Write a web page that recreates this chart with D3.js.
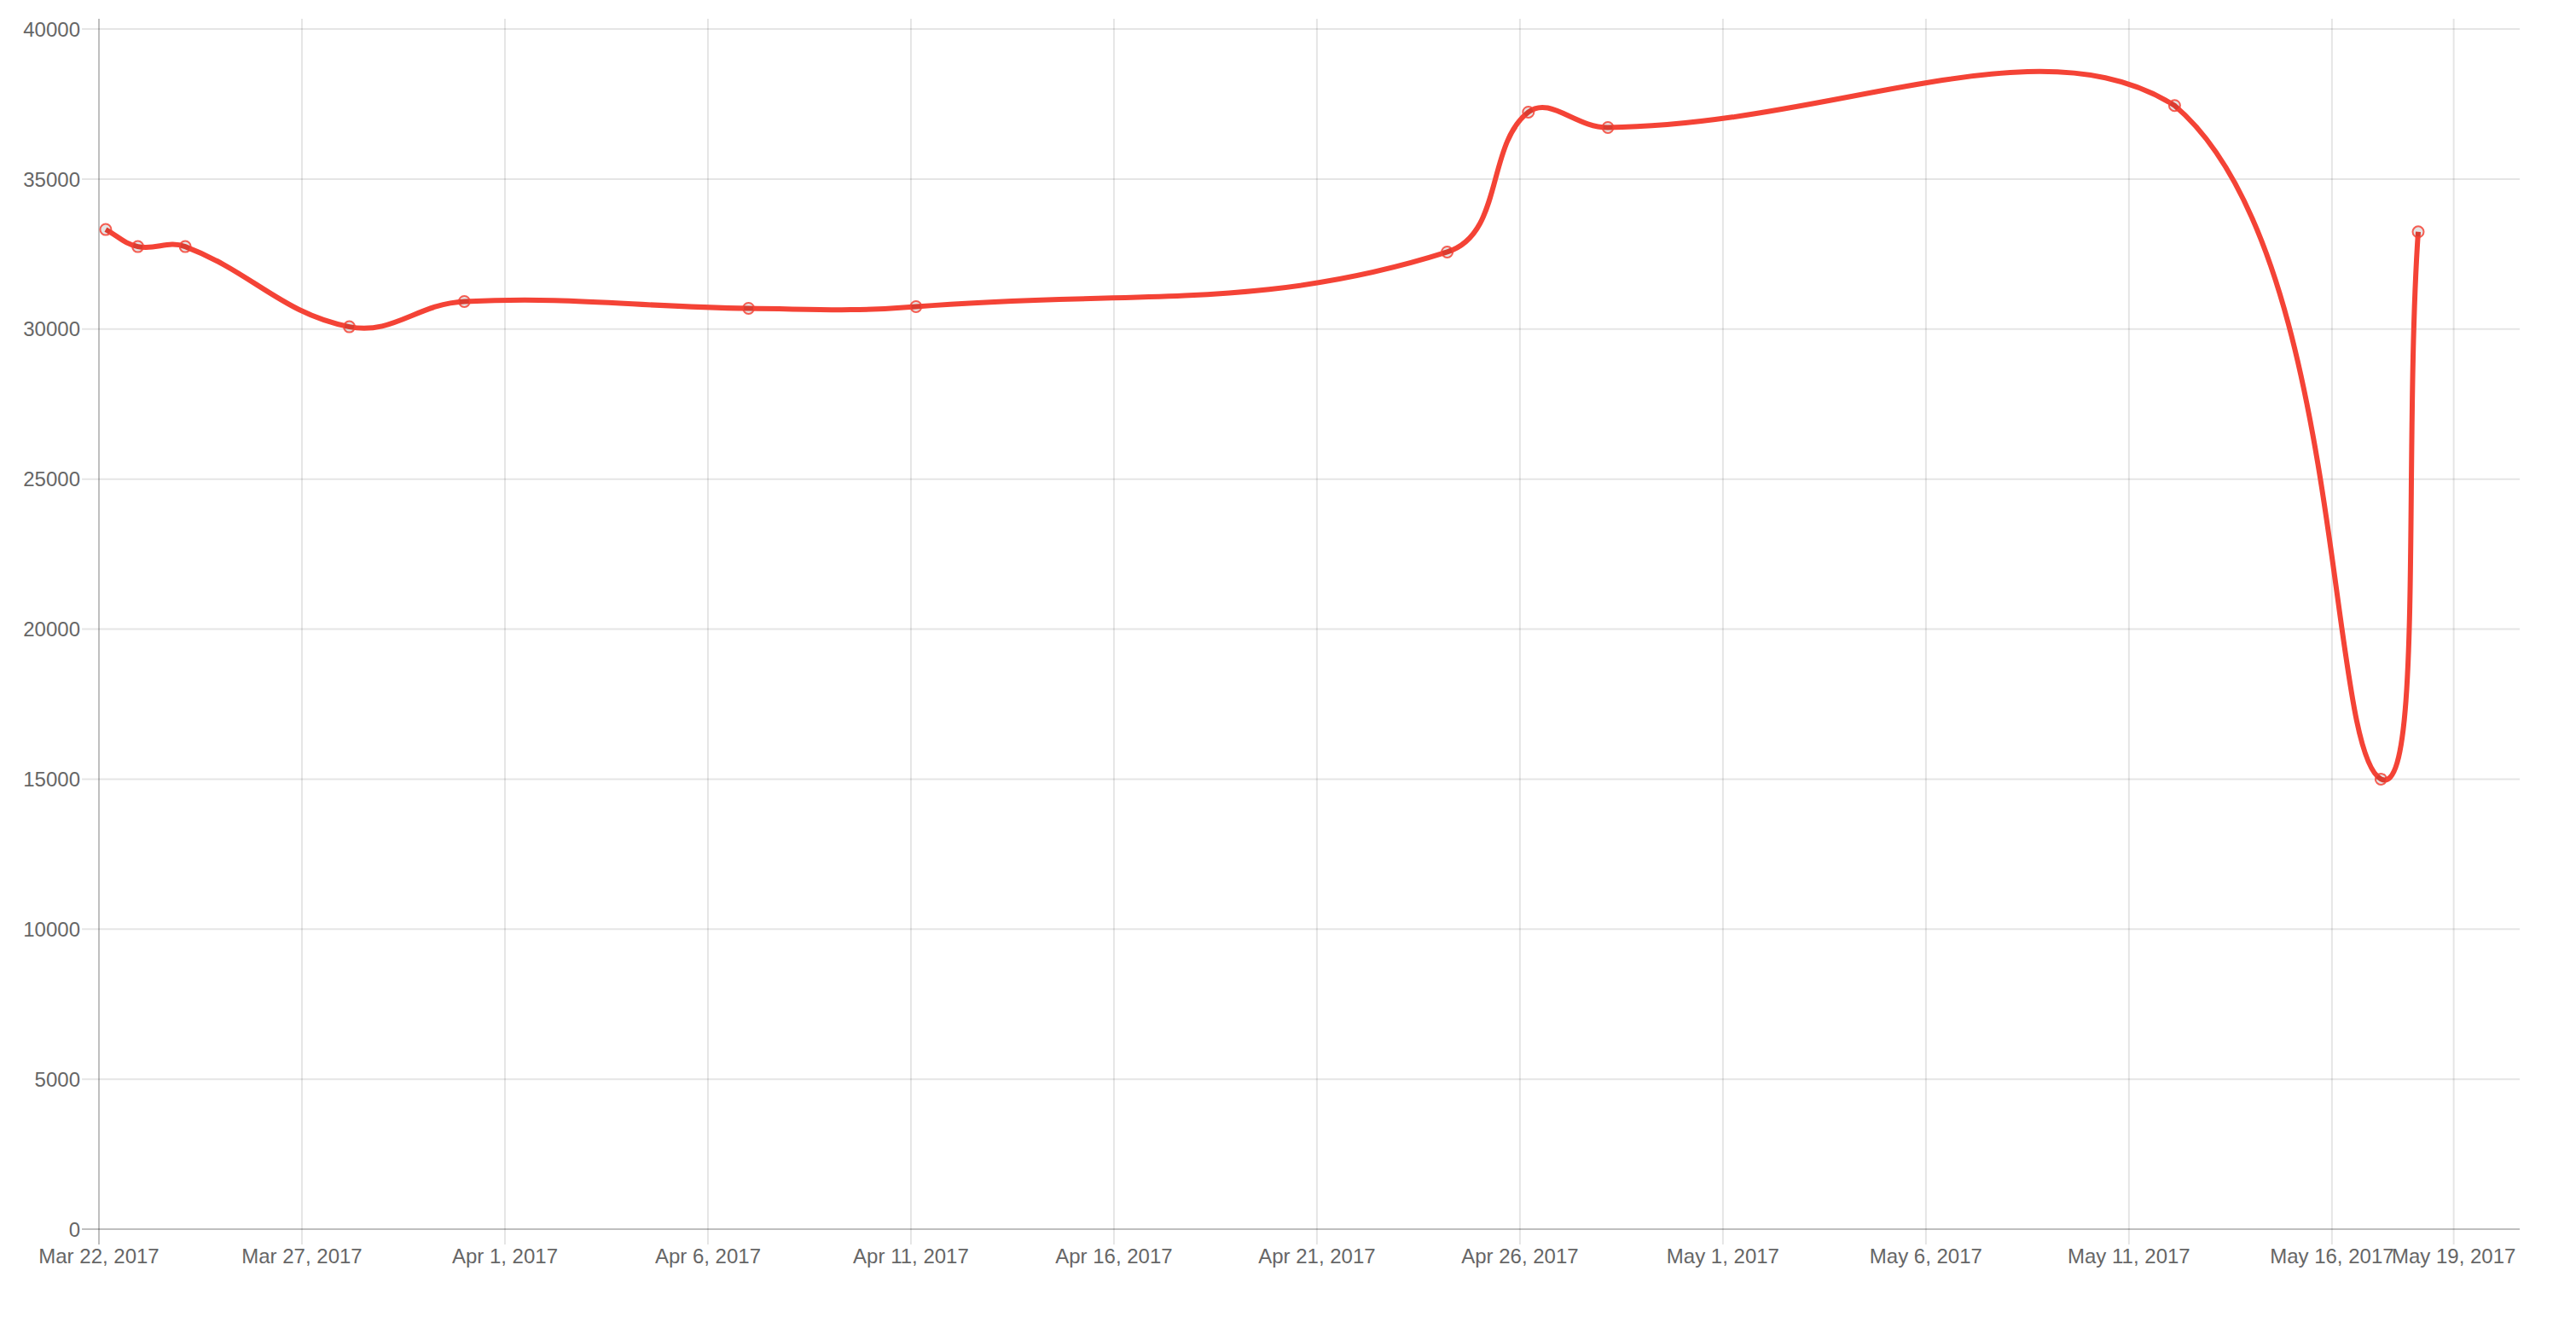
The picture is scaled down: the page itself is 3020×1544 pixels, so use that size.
<!DOCTYPE html>
<html>
<head>
<meta charset="utf-8">
<script src="https://cdn.jsdelivr.net/npm/d3@7"></script>
<style>
  html, body { margin: 0; padding: 0; background: #ffffff; }
  svg { display: block; }
</style>
</head>
<body>
<div id="chart"></div>
<script>
// data
const dates = [
  "2017-03-22T04:00", "2017-03-22T23:00", "2017-03-24T03:00", "2017-03-28T04:00",
  "2017-03-31T00:00", "2017-04-07T00:00", "2017-04-11T03:00", "2017-04-24T05:00",
  "2017-04-26T05:00", "2017-04-28T04:00", "2017-05-12T03:00", "2017-05-17T05:00",
  "2017-05-18T03:00"
];
const values = [33317, 32748, 32748, 30076, 30918, 30690, 30747, 32567, 37230, 36718, 37449, 15000, 33240];
const xDomain = ["2017-03-22T00:00", "2017-05-20T15:00"];
const xTicks = [
  "2017-03-22", "2017-03-27", "2017-04-01", "2017-04-06", "2017-04-11", "2017-04-16",
  "2017-04-21", "2017-04-26", "2017-05-01", "2017-05-06", "2017-05-11", "2017-05-16", "2017-05-19"
];
const yTicks = [0, 5000, 10000, 15000, 20000, 25000, 30000, 35000, 40000];

const width = 3020, height = 1544;
const area = { left: 116, right: 2954, top: 22, bottom: 1441, yTop: 34 };
const tickLen = 20;
const lineColor = "#f44336";

const parseT = d3.utcParse("%Y-%m-%dT%H:%M");
const parseD = d3.utcParse("%Y-%m-%d");
const fmt = d3.utcFormat("%b %-d, %Y");

const x = d3.scaleUtc()
  .domain(xDomain.map(parseT))
  .range([area.left, area.right]);

const y = d3.scaleLinear()
  .domain([0, 40000])
  .range([area.bottom, area.yTop]);

const svg = d3.select("#chart").append("svg")
  .attr("width", width)
  .attr("height", height)
  .style("font-family", "'Liberation Sans', Arial, sans-serif");

// horizontal grid
svg.append("g")
  .selectAll("line")
  .data(yTicks)
  .join("line")
  .attr("x1", area.left - tickLen)
  .attr("x2", area.right)
  .attr("y1", d => y(d))
  .attr("y2", d => y(d))
  .attr("stroke", d => d === 0 ? "rgba(0,0,0,0.25)" : "rgba(0,0,0,0.1)")
  .attr("stroke-width", 2);

// vertical grid
const tickDates = xTicks.map(parseD);
svg.append("g")
  .selectAll("line")
  .data(tickDates)
  .join("line")
  .attr("x1", d => x(d))
  .attr("x2", d => x(d))
  .attr("y1", area.top)
  .attr("y2", area.bottom + tickLen - 2)
  .attr("stroke", (d, i) => i === 0 ? "rgba(0,0,0,0.25)" : "rgba(0,0,0,0.1)")
  .attr("stroke-width", 2);

// y labels
svg.append("g")
  .selectAll("text")
  .data(yTicks)
  .join("text")
  .attr("x", area.left - tickLen - 2)
  .attr("y", d => y(d))
  .attr("dy", "0.36em")
  .attr("text-anchor", "end")
  .attr("font-size", 24)
  .attr("fill", "#666666")
  .text(d => d);

// x labels
svg.append("g")
  .selectAll("text")
  .data(tickDates)
  .join("text")
  .attr("x", d => x(d))
  .attr("y", 1481)
  .attr("text-anchor", "middle")
  .attr("font-size", 24)
  .attr("fill", "#666666")
  .text(d => fmt(d));

// points in pixel space
const pts = dates.map((d, i) => ({ x: x(parseT(d)), y: y(values[i]) }));

// bezier control points, same rule as chart.js splineCurve with tension 0.4
const tension = 0.4;
const clampX = v => Math.max(area.left, Math.min(area.right, v));
const clampY = v => Math.max(area.top, Math.min(area.bottom, v));
pts.forEach((p, i) => {
  const prev = pts[Math.max(i - 1, 0)];
  const next = pts[Math.min(i + 1, pts.length - 1)];
  const d01 = Math.hypot(p.x - prev.x, p.y - prev.y);
  const d12 = Math.hypot(next.x - p.x, next.y - p.y);
  let s01 = d01 / (d01 + d12);
  let s12 = d12 / (d01 + d12);
  if (isNaN(s01)) s01 = 0;
  if (isNaN(s12)) s12 = 0;
  const fa = tension * s01, fb = tension * s12;
  p.c1x = clampX(p.x - fa * (next.x - prev.x));
  p.c1y = clampY(p.y - fa * (next.y - prev.y));
  p.c2x = clampX(p.x + fb * (next.x - prev.x));
  p.c2y = clampY(p.y + fb * (next.y - prev.y));
});

const path = d3.path();
path.moveTo(pts[0].x, pts[0].y);
for (let i = 1; i < pts.length; i++) {
  const a = pts[i - 1], b = pts[i];
  path.bezierCurveTo(a.c2x, a.c2y, b.c1x, b.c1y, b.x, b.y);
}

svg.append("path")
  .attr("d", path.toString())
  .attr("fill", "none")
  .attr("stroke", lineColor)
  .attr("stroke-width", 6)
  .attr("stroke-linejoin", "miter")
  .attr("stroke-linecap", "butt");

svg.append("g")
  .selectAll("circle")
  .data(pts)
  .join("circle")
  .attr("cx", d => d.x)
  .attr("cy", d => d.y)
  .attr("r", 6.5)
  .attr("fill", "rgba(0,0,0,0.1)")
  .attr("stroke", "rgba(244,67,54,0.85)")
  .attr("stroke-width", 2);
</script>
</body>
</html>
